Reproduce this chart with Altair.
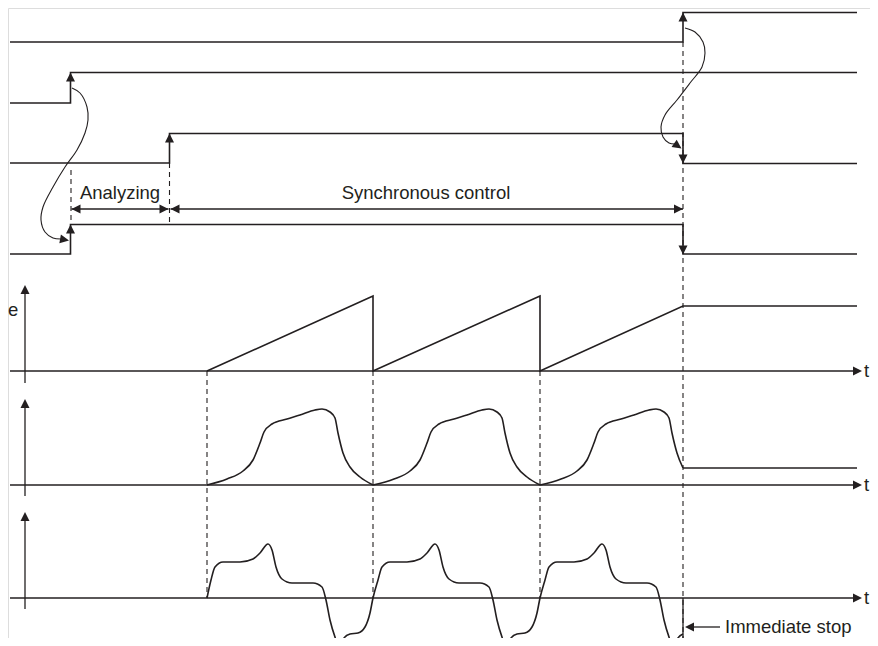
import altair as alt
import pandas as pd

INK = "#231f20"
FONT = "Liberation Sans"

# ---------------- top section: four digital signals ----------------
SIG_A_X = [10, 683, 683, 857]
SIG_A_Y = [42, 42, 12.5, 12.5]
SIG_B_X = [10, 70.5, 70.5, 857]
SIG_B_Y = [103, 103, 72.5, 72.5]
SIG_C_X = [10, 169.5, 169.5, 683, 683, 857]
SIG_C_Y = [163, 163, 133.5, 133.5, 163.5, 163.5]
SIG_D_X = [10, 70.5, 70.5, 683, 683, 857]
SIG_D_Y = [254, 254, 224.5, 224.5, 254, 254]

# interval arrows with labels
SPAN_LABELS = ["Analyzing", "Synchronous control"]
SPAN_START = [71.5, 170.5]
SPAN_END = [168.5, 683]
SPAN_Y = [209, 209]
LABEL_X = [120, 426]
LABEL_Y = [199, 199]

# causal curved arrows
CURVE1_X = [72, 80, 87, 88, 85, 77, 65, 53, 43, 41, 45, 53, 61]
CURVE1_Y = [88, 93, 107, 120, 133, 150, 167, 187, 207, 220, 232, 238, 239]
CURVE2_X = [685, 695, 703, 705, 702, 690, 677, 665, 661, 663, 669, 675]
CURVE2_Y = [28, 32, 42, 53, 67, 83, 100, 115, 127, 137, 143, 144]

# ---------------- lower section: three waveforms ----------------
SAW_X = [207, 373, 373, 540, 540, 683, 857]
SAW_Y = [371, 296, 371, 296, 371, 306, 306]

VEL1_X = [207, 227, 243, 253, 260, 264, 272, 287, 300, 315, 322, 330, 335, 338, 343, 350, 360, 373]
VEL1_Y = [485, 479, 471, 460, 443, 432, 424, 419, 415, 410, 409, 412, 418, 433, 453, 467, 477, 485]
VEL2_X = [373, 394, 410, 420, 427, 431, 439, 454, 467, 482, 489, 497, 502, 505, 510, 517, 527, 540]
VEL2_Y = [485, 479, 471, 460, 443, 432, 424, 419, 415, 410, 409, 412, 418, 433, 453, 467, 477, 485]
VEL3_X = [540, 561, 577, 587, 594, 598, 606, 621, 634, 649, 656, 664, 669, 672, 677, 683]
VEL3_Y = [485, 479, 471, 460, 443, 432, 424, 419, 415, 410, 409, 412, 418, 433, 453, 468]
VEL_HOLD_X = [683, 857]
VEL_HOLD_Y = [468, 468]

ACC_X = [207, 211, 215, 223, 240, 253, 260, 268, 272, 276, 282, 292, 313, 322, 326, 330, 336, 340, 344, 350, 358, 365, 370, 373,
         378, 382, 390, 407, 420, 427, 435, 439, 443, 449, 459, 480, 489, 493, 497, 503, 507, 511, 517, 525, 532, 537, 540,
         545, 549, 557, 574, 587, 594, 602, 606, 610, 616, 626, 647, 656, 660, 664, 670, 674, 678, 683]
ACC_Y = [598, 580, 567, 562, 562, 559, 553, 544, 550, 567, 579, 583, 583, 587, 600, 620, 640, 650, 638, 634, 633, 627, 613, 598,
         580, 567, 562, 562, 559, 553, 544, 550, 567, 579, 583, 583, 587, 600, 620, 640, 650, 638, 634, 633, 627, 613, 598,
         580, 567, 562, 562, 559, 553, 544, 550, 567, 579, 583, 583, 587, 600, 620, 640, 650, 638, 634]

# axes of the three waveform panels
AXIS_X = 25
AXIS_BASE_Y = [371, 485, 598]
AXIS_TIP_Y = [285, 399, 512]
AXIS_FOOT_Y = [383, 496, 609]
AXIS_LEFT = 10
AXIS_RIGHT = 862

# dashed guides
GUIDE_X = [71, 169.5, 683, 207, 373, 540]
GUIDE_Y1 = [170, 163, 42, 371, 371, 371]
GUIDE_Y2 = [224, 224, 646, 598, 598, 598]

# immediate stop
STOP_X = 683
STOP_Y = [640, 598]
STOP_ARROW_X = [685, 720]
STOP_ARROW_Y = 627

TEXTS = ["Analyzing", "Synchronous control", "Immediate stop", "e", "t", "t", "t"]
TEXT_X = [LABEL_X[0], LABEL_X[1], 725, 8, 864, 864, 864]
TEXT_Y = [LABEL_Y[0], LABEL_Y[1], 633, 316, 377, 491, 604]
TEXT_ALIGN = ["center", "center", "left", "left", "left", "left", "left"]

# ---------------- build tables ----------------
def polyline(seg, xs, ys):
    return pd.DataFrame({"seg": seg, "ord": range(len(xs)), "x": xs, "y": ys})

solid_df = pd.concat([
    polyline("A", SIG_A_X, SIG_A_Y),
    polyline("B", SIG_B_X, SIG_B_Y),
    polyline("C", SIG_C_X, SIG_C_Y),
    polyline("D", SIG_D_X, SIG_D_Y),
    polyline("saw", SAW_X, SAW_Y),
    polyline("hold", VEL_HOLD_X, VEL_HOLD_Y),
], ignore_index=True)

smooth_df = pd.concat([
    polyline("v1", VEL1_X, VEL1_Y),
    polyline("v2", VEL2_X, VEL2_Y),
    polyline("v3", VEL3_X, VEL3_Y),
    polyline("acc", ACC_X, ACC_Y),
], ignore_index=True)

curve_df = pd.concat([
    polyline("c1", CURVE1_X, CURVE1_Y),
    polyline("c2", CURVE2_X, CURVE2_Y),
], ignore_index=True)

rules = []
for s, e, y in zip(SPAN_START, SPAN_END, SPAN_Y):
    rules.append({"x": s, "x2": e, "y": y, "y2": y})
for by, ty, fy in zip(AXIS_BASE_Y, AXIS_TIP_Y, AXIS_FOOT_Y):
    rules.append({"x": AXIS_LEFT, "x2": AXIS_RIGHT - 6, "y": by, "y2": by})
    rules.append({"x": AXIS_X, "x2": AXIS_X, "y": fy, "y2": ty + 4})
rules.append({"x": STOP_X, "x2": STOP_X, "y": STOP_Y[0], "y2": STOP_Y[1]})
rules.append({"x": STOP_ARROW_X[0] + 4, "x2": STOP_ARROW_X[1], "y": STOP_ARROW_Y, "y2": STOP_ARROW_Y})
rule_df = pd.DataFrame(rules)

guide_df = pd.DataFrame({"x": GUIDE_X, "y": GUIDE_Y1, "y2": GUIDE_Y2})

heads = [
    (683, 12.5, 270), (70.5, 72.5, 270), (169.5, 133.5, 270), (683, 163.5, 90),
    (70.5, 224.5, 270), (683, 254.5, 90),
    (SPAN_START[0], SPAN_Y[0], 180), (SPAN_END[0], SPAN_Y[0], 0),
    (SPAN_START[1], SPAN_Y[1], 180), (SPAN_END[1], SPAN_Y[1], 0),
    (69, 240.5, 10), (681.5, 148.5, 35),
    (STOP_ARROW_X[0], STOP_ARROW_Y, 180),
]
for by, ty in zip(AXIS_BASE_Y, AXIS_TIP_Y):
    heads.append((AXIS_X, ty, 270))
    heads.append((AXIS_RIGHT, by, 0))
head_df = pd.DataFrame(heads, columns=["x", "y", "a"])

text_df = pd.DataFrame({"t": TEXTS, "x": TEXT_X, "y": TEXT_Y, "al": TEXT_ALIGN})

# ---------------- chart ----------------
# plot area placed at page (8, 8): domain equals page pixel coordinates
X = alt.X("x:Q", scale=alt.Scale(domain=[8, 870], nice=False, zero=False), axis=None)
Y = alt.Y("y:Q", scale=alt.Scale(domain=[8, 638], nice=False, zero=False, reverse=True), axis=None)

guides = alt.Chart(guide_df).mark_rule(color=INK, strokeWidth=1.1, strokeDash=[5, 4]).encode(
    x=X, y=Y, y2="y2:Q")

solid = alt.Chart(solid_df).mark_line(color=INK, strokeWidth=1.6).encode(
    x=X, y=Y, detail="seg:N", order="ord:Q")

smooth = alt.Chart(smooth_df).mark_line(color=INK, strokeWidth=1.6, interpolate="monotone").encode(
    x=X, y=Y, detail="seg:N", order="ord:Q")

curves = alt.Chart(curve_df).mark_line(color=INK, strokeWidth=1.1, interpolate="catmull-rom").encode(
    x=X, y=Y, detail="seg:N", order="ord:Q")

straight = alt.Chart(rule_df).mark_rule(color=INK, strokeWidth=1.3).encode(
    x=X, y=Y, x2="x2:Q", y2="y2:Q")

arrowheads = alt.Chart(head_df).mark_point(
    shape="M0,0L-2,-1L-2,1Z", filled=True, size=81, opacity=1, color=INK, strokeWidth=0
).encode(x=X, y=Y, angle=alt.Angle("a:Q", scale=None))

layers = [guides, solid, smooth, curves, straight, arrowheads]
for al in ["left", "center", "right"]:
    sub = text_df[text_df["al"] == al]
    if len(sub):
        layers.append(
            alt.Chart(sub).mark_text(font=FONT, fontSize=18.5, color=INK, align=al, baseline="alphabetic").encode(
                x=X, y=Y, text="t:N")
        )

chart = alt.layer(*layers).properties(
    width=862, height=630, padding=0, autosize=alt.AutoSizeParams(type="none")
).configure_view(stroke=None).configure(background="white")

chart.save("out.html", embed_options={"renderer": "svg", "actions": False})
